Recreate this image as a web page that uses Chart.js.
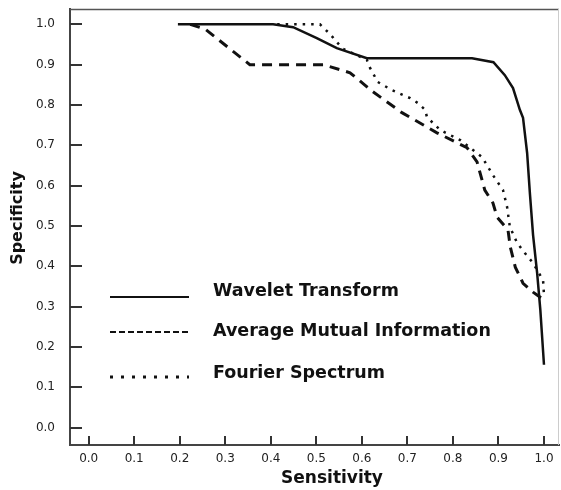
<!DOCTYPE html>
<html>
<head>
<meta charset="utf-8">
<script src="https://cdn.jsdelivr.net/npm/chart.js@4"></script>
<style>
  html, body { margin: 0; padding: 0; background: #fff; }
  #box { width: 561px; height: 490px; }
</style>
</head>
<body>
<div id="box"><canvas id="roc"></canvas></div>
<script>
// ROC curves: x = sensitivity, y = specificity
var waveletX = [0.196, 0.405, 0.449, 0.501, 0.545, 0.611, 0.842, 0.889, 0.914, 0.932, 0.947, 0.954, 0.963, 0.969, 0.976, 0.985, 0.992, 1.0];
var waveletY = [1.0, 1.0, 0.993, 0.966, 0.941, 0.916, 0.916, 0.906, 0.874, 0.842, 0.788, 0.768, 0.681, 0.582, 0.478, 0.383, 0.292, 0.156];

var amiX = [0.223, 0.256, 0.354, 0.515, 0.574, 0.624, 0.688, 0.765, 0.831, 0.853, 0.870, 0.888, 0.897, 0.921, 0.926, 0.937, 0.954, 0.976, 0.991, 1.0];
var amiY = [1.0, 0.988, 0.9, 0.9, 0.88, 0.833, 0.781, 0.731, 0.694, 0.659, 0.589, 0.557, 0.522, 0.490, 0.448, 0.398, 0.358, 0.336, 0.324, 0.317];

var fourierX = [0.414, 0.508, 0.530, 0.545, 0.559, 0.611, 0.618, 0.635, 0.666, 0.706, 0.723, 0.739, 0.743, 0.772, 0.816, 0.864, 0.888, 0.910, 0.919, 0.925, 0.941, 0.958, 0.976, 0.998, 1.0];
var fourierY = [1.0, 1.0, 0.976, 0.956, 0.939, 0.912, 0.892, 0.857, 0.837, 0.817, 0.805, 0.788, 0.770, 0.738, 0.713, 0.671, 0.626, 0.589, 0.547, 0.498, 0.458, 0.433, 0.408, 0.366, 0.33];

var seriesNames = ['Wavelet Transform', 'Average Mutual Information', 'Fourier Spectrum'];
var tickValues = [0, 0.1, 0.2, 0.3, 0.4, 0.5, 0.6, 0.7, 0.8, 0.9, 1.0];
var xTitle = 'Sensitivity';
var yTitle = 'Specificity';

function punts(xs, ys) {
    var res = [];
    for (var i = 0; i < xs.length; i++) {
        res.push({ x: xs[i], y: ys[i] });
    }
    return res;
}

function fixarTicks(scale) {
    scale.ticks = tickValues.map(function(v) { return { value: v }; });
}

// ticks cap endins, vores de dalt i dreta, llegenda i títols
var extres = {
    id: 'extres',
    afterDraw: function(chart) {
        var ctx = chart.ctx;
        var a = chart.chartArea;
        var sx = chart.scales.x, sy = chart.scales.y;
        ctx.save();

        ctx.strokeStyle = '#555';
        ctx.lineWidth = 1.5;
        ctx.beginPath();
        ctx.moveTo(a.left, a.top + 0.5);
        ctx.lineTo(a.right, a.top + 0.5);
        ctx.stroke();
        ctx.strokeStyle = '#ccc';
        ctx.lineWidth = 1;
        ctx.beginPath();
        ctx.moveTo(a.right - 0.5, a.top);
        ctx.lineTo(a.right - 0.5, a.bottom);
        ctx.stroke();

        ctx.strokeStyle = '#333';
        ctx.lineWidth = 2;
        tickValues.forEach(function(v) {
            var px = Math.round(sx.getPixelForValue(v));
            ctx.beginPath();
            ctx.moveTo(px, a.bottom);
            ctx.lineTo(px, a.bottom - 9);
            ctx.stroke();
            var py = Math.round(sy.getPixelForValue(v));
            ctx.beginPath();
            ctx.moveTo(a.left, py);
            ctx.lineTo(a.left + 12, py);
            ctx.stroke();
        });

        // llegenda
        var estils = [[], [6, 3], [3, 8]];
        var amples = [2, 2, 3];
        var filesY = [297, 332, 377];
        var textY = [291, 331, 373];
        ctx.strokeStyle = '#111';
        ctx.fillStyle = '#111';
        ctx.font = 'bold 17.5px "DejaVu Sans"';
        ctx.textBaseline = 'middle';
        ctx.textAlign = 'left';
        for (var i = 0; i < seriesNames.length; i++) {
            ctx.lineWidth = amples[i];
            ctx.setLineDash(estils[i]);
            ctx.beginPath();
            ctx.moveTo(110, filesY[i]);
            ctx.lineTo(189, filesY[i]);
            ctx.stroke();
            ctx.fillText(seriesNames[i], 213, textY[i]);
        }
        ctx.setLineDash([]);

        // títols dels eixos
        ctx.textAlign = 'center';
        ctx.font = 'bold 17px "DejaVu Sans"';
        ctx.fillText(xTitle, 332, 479);
        ctx.translate(18, 218);
        ctx.rotate(-Math.PI / 2);
        ctx.font = 'bold 16px "DejaVu Sans"';
        ctx.fillText(yTitle, 0, 0);
        ctx.restore();
    }
};

function dibuixarGrafic() {
    var ctx = document.getElementById('roc').getContext('2d');
    Chart.defaults.font.family = '"DejaVu Sans"';
    Chart.defaults.color = '#222';

    new Chart(ctx, {
        type: 'scatter',
        data: {
            datasets: [{
                label: seriesNames[0],
                data: punts(waveletX, waveletY),
                borderColor: '#111',
                borderWidth: 2.5
            }, {
                label: seriesNames[1],
                data: punts(amiX, amiY),
                borderColor: '#111',
                borderWidth: 3,
                borderDash: [10, 7]
            }, {
                label: seriesNames[2],
                data: punts(fourierX, fourierY),
                borderColor: '#111',
                borderWidth: 2.5,
                borderDash: [2.5, 6]
            }]
        },
        options: {
            responsive: true,
            maintainAspectRatio: false,
            animation: false,
            showLine: true,
            elements: {
                point: { radius: 0 },
                line: { tension: 0, fill: false }
            },
            layout: { padding: { top: 9, right: 2, left: 0, bottom: 0 } },
            plugins: {
                legend: { display: false },
                tooltip: { enabled: false }
            },
            scales: {
                x: {
                    type: 'linear',
                    min: -0.041,
                    max: 1.033,
                    afterBuildTicks: fixarTicks,
                    afterFit: function(s) {
                        s.height = 45;
                        s.paddingLeft = 0;
                        s.paddingRight = 0;
                    },
                    grid: { drawOnChartArea: false, drawTicks: false },
                    border: { color: '#444', width: 2 },
                    ticks: {
                        padding: 7,
                        font: { size: 12 },
                        callback: function(v) { return v.toFixed(1); }
                    }
                },
                y: {
                    type: 'linear',
                    min: -0.043,
                    max: 1.038,
                    afterBuildTicks: fixarTicks,
                    afterFit: function(s) {
                        s.width = 70;
                        s.paddingTop = 0;
                        s.paddingBottom = 0;
                    },
                    grid: { drawOnChartArea: false, drawTicks: false },
                    border: { color: '#444', width: 2 },
                    ticks: {
                        padding: 15,
                        font: { size: 12 },
                        callback: function(v) { return v.toFixed(1); }
                    }
                }
            }
        },
        plugins: [extres]
    });
}

document.addEventListener('DOMContentLoaded', function() {
    dibuixarGrafic();
});
</script>
</body>
</html>
